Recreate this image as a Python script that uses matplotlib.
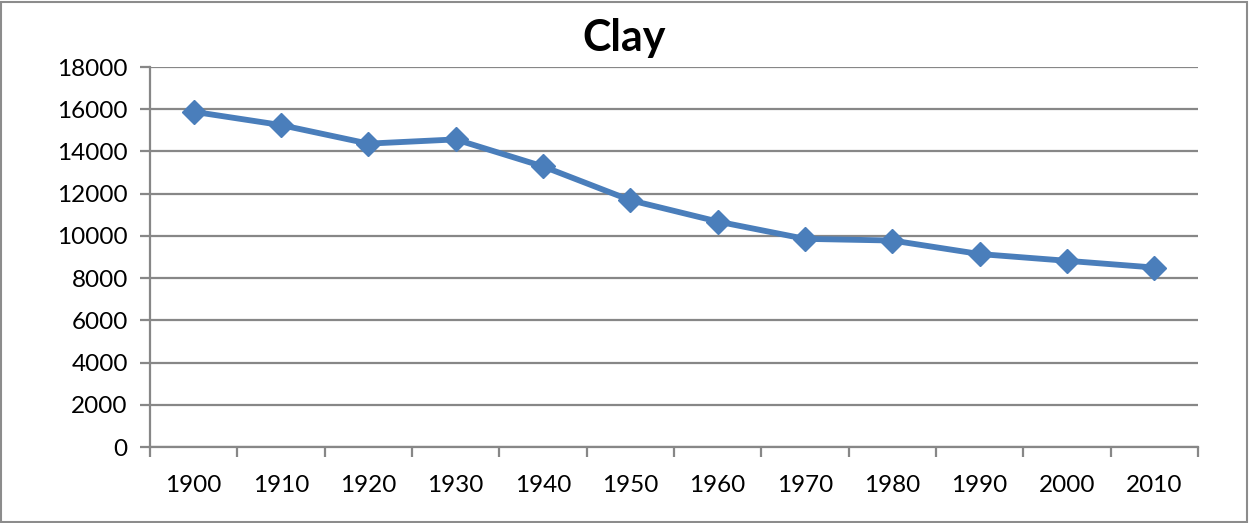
import matplotlib.pyplot as plt
import numpy as np

years = ['1900', '1910', '1920', '1930', '1940', '1950',
         '1960', '1970', '1980', '1990', '2000', '2010']
population = [15880, 15250, 14370, 14570, 13290, 11690,
              10680, 9860, 9780, 9140, 8820, 8500]

plt.rcParams['font.family'] = ['Lato', 'DejaVu Sans']

fig = plt.figure(figsize=(12.49, 5.23), dpi=100)
ax = fig.add_axes([150/1249, 76/523, 1048/1249, 380/523])

x = np.arange(len(years))
ax.plot(x, population, color='#4a7ebb', lw=4.2, marker='D', ms=12,
        solid_joinstyle='round', zorder=3)

gc = '#878787'
ax.set_xlim(-0.5, len(years) - 0.5)
ax.set_ylim(0, 18000)
ax.set_yticks(np.arange(0, 18001, 2000))
ax.yaxis.grid(True, color=gc, lw=1.6)
ax.set_xticks(x)
ax.set_xticklabels(years)
ax.set_xticks(np.arange(-0.5, len(years)), minor=True)
ax.tick_params(axis='x', which='major', length=0, pad=20, labelsize=17.5)
ax.tick_params(axis='x', which='minor', length=7, width=1.6, color=gc)
ax.tick_params(axis='y', length=7, width=1.6, color=gc, pad=9, labelsize=17.5)
for s in ['top', 'right']:
    ax.spines[s].set_visible(False)
for s in ['left', 'bottom']:
    ax.spines[s].set_color(gc)
    ax.spines[s].set_linewidth(1.6)
ax.set_axisbelow(True)

fig.text(0.5, 1 - 38/523, 'Clay', fontsize=31, fontweight='bold',
         ha='center', va='center')

fig.patches.append(plt.Rectangle((0.001, 0.002), 0.997, 0.995, transform=fig.transFigure,
                                 fill=False, edgecolor='#8c8c8c', lw=1.5))

fig.savefig('out.png', dpi=100)
